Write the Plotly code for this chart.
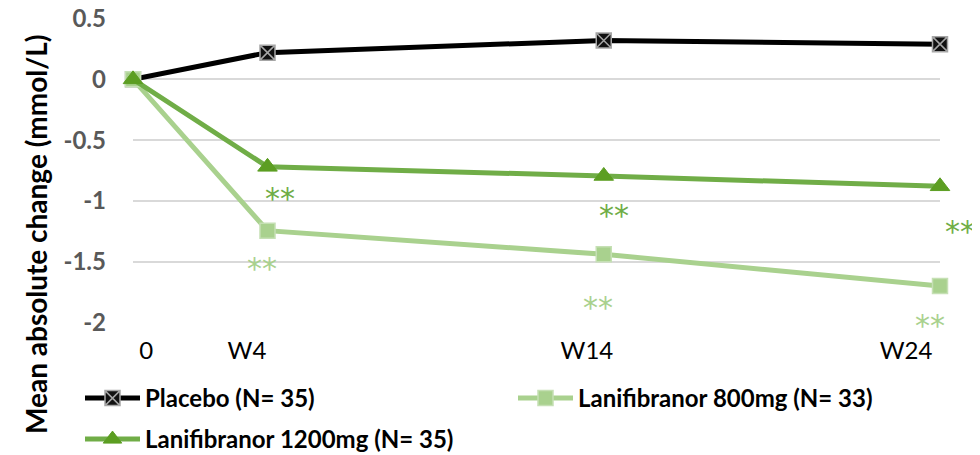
import plotly.graph_objects as go

weeks = [0, 4, 14, 24]
tick_labels = ["0", "W4", "W14", "W24"]
tick_positions = [0.39, 3.39, 13.5, 22.99]
placebo = [0, 0.22, 0.32, 0.29]
lani800 = [0, -1.245, -1.44, -1.70]
lani1200 = [0, -0.72, -0.795, -0.88]
y_ticks = [0.5, 0, -0.5, -1, -1.5, -2]
y_tick_text = ["0.5", "0", "-0.5", "-1", "-1.5", "-2"]

FONT = "Lato"
C_PLA = "#000000"
C_800 = "#a9d18e"
C_1200 = "#70ad47"

W, H = 972, 447  # page adds an 8px body margin
L, R, T, B = 125, 40, 10, 132
PW, PH = W - L - R, H - T - B

fig = go.Figure()
fig.add_trace(go.Scatter(
    x=weeks, y=placebo, name="Placebo (N= 35)", mode="lines+markers",
    line=dict(color=C_PLA, width=5),
    marker=dict(symbol="square-x", size=15, color="#111111",
                line=dict(color="#a6a6a6", width=1.5)),
    cliponaxis=False, legend="legend"))
fig.add_trace(go.Scatter(
    x=weeks, y=lani800, name="Lanifibranor 800mg (N= 33)", mode="lines+markers",
    line=dict(color=C_800, width=5),
    marker=dict(symbol="square", size=15, color=C_800,
                line=dict(color="#c5e0b4", width=1.5)),
    cliponaxis=False, legend="legend"))
fig.add_trace(go.Scatter(
    x=weeks, y=lani1200, name="Lanifibranor 1200mg (N= 35)", mode="lines+markers",
    line=dict(color=C_1200, width=5),
    marker=dict(symbol="triangle-up", size=17, color="#5c9e22",
                line=dict(color="#5c9e22", width=1)),
    cliponaxis=False, legend="legend2"))

# significance stars (offset from the data points)
stars = [
    (weeks[1], lani1200[1], 12, -32, C_1200),
    (weeks[2], lani1200[2], 10, -40, C_1200),
    (weeks[3], lani1200[3], 20, -45, C_1200),
    (weeks[1], lani800[1], -6, -38, C_800),
    (weeks[2], lani800[2], -6, -53, C_800),
    (weeks[3], lani800[3], -10, -40, C_800),
]
for x, y, dx, dy, c in stars:
    fig.add_annotation(x=x, y=y, text="**", showarrow=False, xshift=dx, yshift=dy,
                       font=dict(family="DejaVu Sans", size=30, color=c))

fig.add_annotation(xref="paper", yref="paper", x=(28 - L) / PW, y=(T + PH - 227) / PH,
                   xanchor="center", yanchor="middle", textangle=-90, showarrow=False,
                   text="<b>Mean absolute change (mmol/L)</b>",
                   font=dict(family=FONT, size=28, color="#000000"))

leg_common = dict(orientation="h", xanchor="left", yanchor="top",
                  entrywidth=363, entrywidthmode="pixels", itemwidth=55,
                  font=dict(family=FONT, size=24, color="#000000", weight="bold"),
                  bgcolor="rgba(0,0,0,0)")

fig.update_layout(
    width=W, height=H,
    margin=dict(l=L, r=R, t=T, b=B, autoexpand=False),
    plot_bgcolor="white", paper_bgcolor="white",
    showlegend=True,
    legend=dict(x=(72 - L) / PW, y=(T + PH - 368) / PH, **leg_common),
    legend2=dict(x=(72 - L) / PW, y=(T + PH - 409) / PH, **leg_common),
    xaxis=dict(range=[0, 24], showgrid=False, zeroline=False, showline=False,
               tickmode="array", tickvals=tick_positions, ticktext=tick_labels,
               ticks="", tickfont=dict(family=FONT, size=24, color="#000000"),
               ticklabelstandoff=11, automargin=False, ticklabeloverflow="allow"),
    yaxis=dict(range=[-2.005, 0.505], showgrid=True, gridcolor="#d9d9d9", gridwidth=1.5,
               zeroline=False, showline=False, tickmode="array", tickvals=y_ticks,
               ticktext=y_tick_text, ticks="",
               tickfont=dict(family=FONT, size=24, color="#595959", weight="bold"),
               ticklabelstandoff=26, automargin=False, ticklabeloverflow="allow"),
)

fig.write_html("out.html")
